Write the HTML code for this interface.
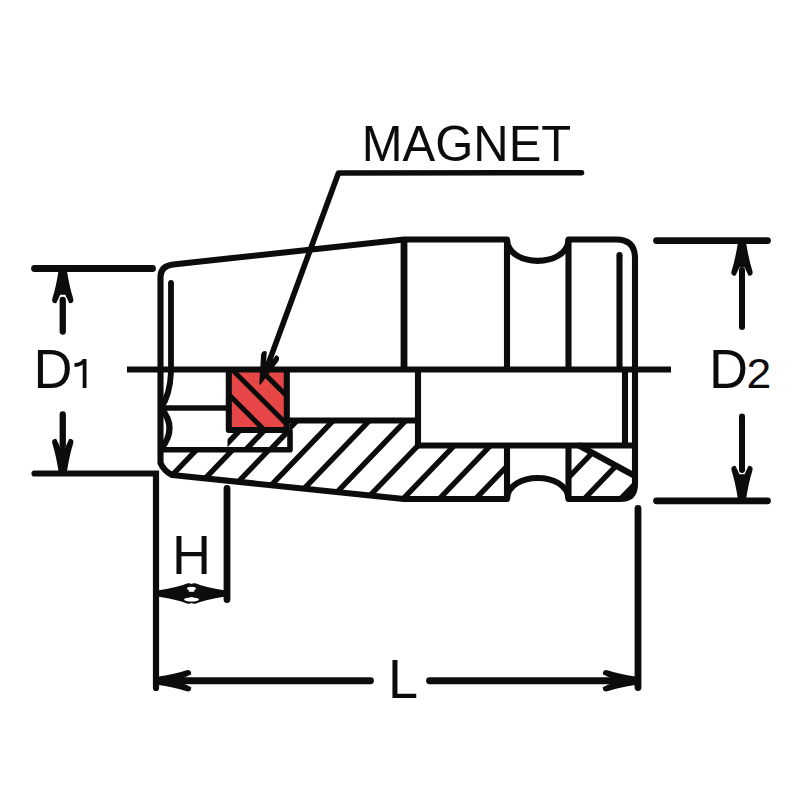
<!DOCTYPE html>
<html><head><meta charset="utf-8">
<style>
html,body{margin:0;padding:0;background:#fff;width:800px;height:800px;overflow:hidden}
svg{display:block}
text{font-family:"Liberation Sans",sans-serif;fill:#0c0c0c}
</style></head><body>
<svg width="800" height="800" viewBox="0 0 800 800">
<defs>
<path id="ah" d="M-3.5,0 L3.5,0 Q6,16 9.5,27 Q11,31.5 7,31.5 L3,23 L-3,23 L-7,31.5 Q-11,31.5 -9.5,27 Q-6,16 -3.5,0 Z"/>
<path id="ahf" d="M-2.5,0 L2.5,0 Q5.5,19 9.5,29 Q10,33 6.5,33 L3.5,29 L-3.5,29 L-6.5,33 Q-10,33 -9.5,29 Q-5.5,19 -2.5,0 Z"/>
<path id="ap" d="M0,0 L8.5,28 Q9,32 5.5,32 L2.5,22 L-2.5,22 L-5.5,32 Q-9,32 -8.5,28 Z"/>
</defs>
<rect width="800" height="800" fill="#fff"/>

<!-- magnet fill -->
<rect x="230" y="371" width="56" height="58" fill="#e64646"/>

<g fill="none" stroke="#0c0c0c" stroke-width="6.1" stroke-linecap="butt" stroke-linejoin="round">
  <!-- body outline -->
  <path d="M160.5,463 L160.5,277 Q160.5,266 173,264.5 L404,239.5 L507,239.5 C508,268 567.5,268 568.5,239.5 L616,239.5 Q635,239.5 635,258 L635,484 Q635,499 620,499 L568.5,499 C567.5,471 508,471 507,499 L404,499 L172,475 Q164,471 160.5,463 Z"/>
  <!-- verticals -->
  <path d="M404,239 L404,369" stroke-width="6.8"/>
  <path d="M507,239 L507,369 M507,445 L507,499"/>
  <path d="M568.5,239 L568.5,369 M568.5,445 L568.5,499"/>
  <path d="M619.5,255 L619.5,369 M625,369 L625,445"/>
  <circle cx="619.5" cy="255" r="3" fill="#0c0c0c" stroke="none"/>
  <!-- inner left -->
  <path d="M171,283 L171,372 Q170,395 161,408" stroke-width="5.8"/>
  <circle cx="171" cy="283" r="2.9" fill="#0c0c0c" stroke="none"/>
  <path d="M161,408 Q178,428 161,449"/>
  <path d="M161,408 L226,408" stroke-width="5.6"/>
  <path d="M161,449.8 L290,449.8 L290,430" stroke-width="5.6"/>
  <!-- magnet box -->
  <path d="M228.8,369 L228.8,430 L286.8,430 L286.8,369"/>
  <!-- bore -->
  <path d="M288,420.5 L418,420.5"/>
  <path d="M418,369 L418,445.5 L635,445.5"/>
  <!-- chamfer -->
  <path d="M578,445 L635,476"/>
  <!-- center line -->
  <path d="M127,369.5 L671,369.5"/>
</g>

<!-- hatching -->
<clipPath id="cw"><path d="M161,449.5 L290,449.5 L290,420.5 L418,420.5 L418,445.5 L507,445.5 L507,499 L404,499 L172,475 Q164,471 160.5,463 Z"/></clipPath>
<clipPath id="cr"><path d="M568.5,445.5 L578,445.5 L635,476 L635,484 Q635,499 620,499 L568.5,499 Z"/></clipPath>
<clipPath id="cs"><rect x="227.5" y="430" width="62.5" height="20"/></clipPath>
<g stroke="#0c0c0c" stroke-width="5.4" fill="none" clip-path="url(#cw)">
<path d="M244.3,400 L129.1,520 M280.5,400 L165.3,520 M316.8,400 L201.6,520 M353.0,400 L237.8,520 M389.2,400 L274.0,520 M425.5,400 L310.3,520 M461.7,400 L346.5,520 M498.0,400 L382.8,520 M534.2,400 L419.0,520 M570.5,400 L455.3,520 M606.7,400 L491.5,520"/>
</g>
<g stroke="#0c0c0c" stroke-width="5.4" fill="none" clip-path="url(#cr)">
<path d="M643.0,400 L527.8,520 M679.2,400 L564.0,520 M715.5,400 L600.3,520 M751.7,400 L636.5,520"/>
</g>
<g stroke="#0c0c0c" stroke-width="5.5" fill="none" clip-path="url(#cs)">
<path d="M249.8,420 L211.4,460 M274.3,420 L235.9,460 M298.8,420 L260.4,460"/>
</g>

<!-- magnet hatch -->
<clipPath id="cm"><rect x="230" y="371" width="56" height="57"/></clipPath>
<g stroke="#0c0c0c" stroke-width="5" fill="none" clip-path="url(#cm)">
  <path d="M222,359.5 L296,433.5"/>
  <path d="M220,385.7 L270,435.7"/>
  <path d="M256,365.3 L296,405.3"/>
</g>

<!-- dimension lines -->
<g fill="none" stroke="#0c0c0c" stroke-width="6.8" stroke-linecap="round">
  <path d="M34.5,268.5 L152.5,268.5"/>
  <path d="M34.5,473.5 L156,473.5 L156,688" stroke-width="6.2"/>
  <path d="M62.75,300 L62.75,331.5" stroke-width="6.3"/>
  <path d="M62.75,414.5 L62.75,445" stroke-width="6.3"/>
  <path d="M227,488.5 L227,599.5"/>
  <path d="M638,508.5 L638,687.5"/>
  <path d="M185,594.5 L198,594.5" stroke-width="5.5"/>
  <path d="M185,680.75 L370.5,680.75"/>
  <path d="M429.5,680.75 L610,680.75"/>
  <path d="M656.5,240.6 L767.5,240.6"/>
  <path d="M656.5,500.8 L767.5,500.8"/>
  <path d="M742,270 L742,327" stroke-width="6"/>
  <path d="M742,416.5 L742,470" stroke-width="6"/>
</g>
<g fill="none" stroke="#0c0c0c" stroke-width="5.6" stroke-linecap="round" stroke-linejoin="round">
  <path d="M581.5,172.7 L338.5,173 L266,370"/>
</g>

<!-- arrowheads -->
<g fill="#0c0c0c" stroke="#0c0c0c" stroke-width="1.5" stroke-linejoin="round">
  <use href="#ah" transform="translate(62.75,271)"/>
  <use href="#ah" transform="translate(62.75,471) rotate(180)"/>
  <use href="#ah" transform="translate(742,243.5)"/>
  <use href="#ah" transform="translate(742,498) rotate(180)"/>
  <use href="#ah" transform="translate(159,680.75) rotate(-90)"/>
  <use href="#ah" transform="translate(635,680.75) rotate(90)"/>
  <use href="#ahf" transform="translate(159,593.5) rotate(-90)"/>
  <use href="#ahf" transform="translate(224,593.5) rotate(90)"/>
  <use href="#ap" transform="translate(260,384) rotate(200.4)"/>
</g>

<ellipse cx="191.5" cy="588.5" rx="4.5" ry="1.8" fill="#fff"/>
<ellipse cx="191.5" cy="599.5" rx="7.5" ry="2" fill="#fff"/>
<!-- text -->
<text transform="translate(361.7,161.4) scale(1,1.035)" font-size="49">MAGNET</text>
<text transform="translate(33.5,388.4) scale(1,1.025)" font-size="54">D</text>
<path d="M74.5,365 Q81.8,365 84.6,359.6 M84.6,359 L84.6,388" fill="none" stroke="#0c0c0c" stroke-width="3.8"/>
<text transform="translate(709,388.4) scale(1,1.025)" font-size="54">D</text>
<text transform="translate(746.5,388.4) scale(1.06,1)" font-size="42">2</text>
<text transform="translate(172,574.4) scale(1,1.03)" font-size="54">H</text>
<text transform="translate(388,697.6) scale(1,1.03)" font-size="54">L</text>
</svg>
</body></html>
